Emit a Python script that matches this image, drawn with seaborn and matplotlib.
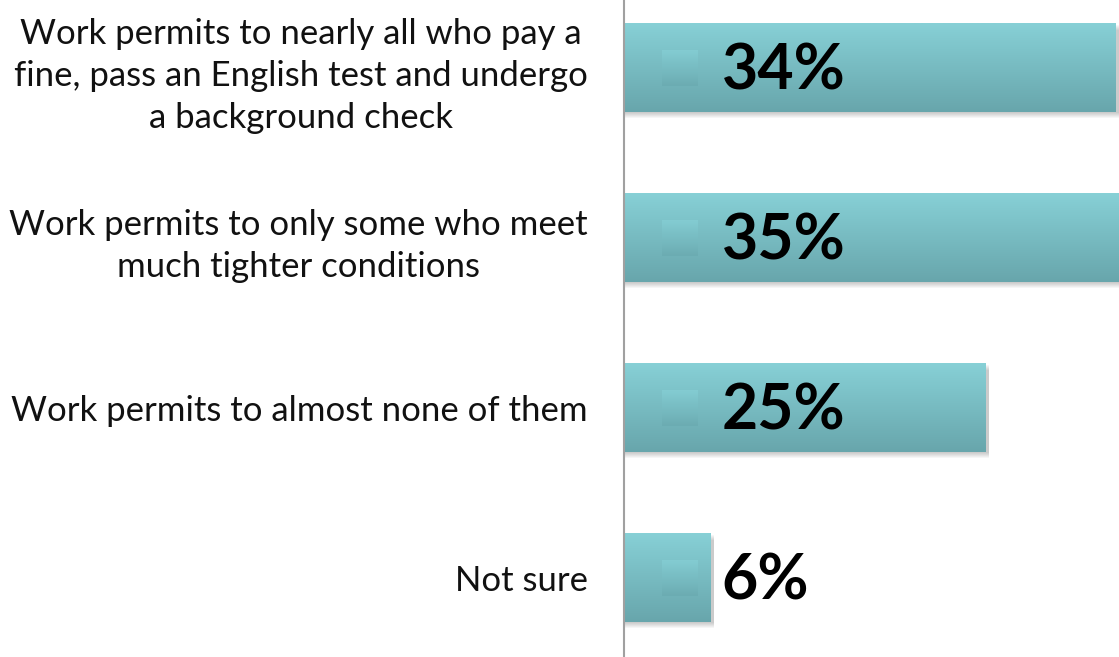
import numpy as np
import matplotlib
matplotlib.use("Agg")
import matplotlib.pyplot as plt
import seaborn as sns
from matplotlib.patches import Rectangle

# --- datos ---
categorias = [
    "Work permits to nearly all who pay a\nfine, pass an English test and undergo\na background check",
    "Work permits to only some who meet\nmuch tighter conditions",
    "Work permits to almost none of them",
    "Not sure",
]
valores = [34, 35, 25, 6]
etiquetas = ["34%", "35%", "25%", "6%"]

color_arriba = np.array([0x87, 0xD0, 0xD6]) / 255
color_abajo = np.array([0x68, 0xA6, 0xAC]) / 255

sns.set_style("white")
plt.rcParams['font.family'] = ['Lato', 'DejaVu Sans']

fig = plt.figure(figsize=(11.19, 6.57), dpi=100)
ax = fig.add_axes([624 / 1119, 0, 1 - 624 / 1119, 1])

ax = sns.barplot(x=valores, y=categorias, orient='h', width=0.52, color=color_arriba, ax=ax)

# degradado vertical para las barras
grad = np.linspace(0, 1, 64)[:, None, None]
img = color_arriba * (1 - grad) + color_abajo * grad

px_y = 1 / 170  # un pixel en unidades de datos (eje y)
px_x = 1 / 14.47

for bar, txt in zip(ax.patches, etiquetas):
    x0, y0 = bar.get_x(), bar.get_y()
    w, h = bar.get_width(), bar.get_height()
    bar.set_alpha(0)
    # sombra
    for k in range(1, 7):
        ax.add_patch(Rectangle((x0 + px_x * 1, y0 + px_y * k), w + px_x * 2, h,
                               color='black', alpha=0.035, lw=0, zorder=1))
    ax.imshow(img, extent=(x0, x0 + w, y0 + h, y0), origin='upper',
              aspect='auto', zorder=2)
    # marcador de leyenda dentro de la barra
    yc = y0 + h / 2
    mk = 36 * px_y / 2
    ax.imshow(color_arriba * (1 - grad * 0.8) + color_abajo * grad * 0.8 - 0.01,
              extent=(2.6, 2.6 + 36 * px_x, yc + mk, yc - mk), origin='upper',
              aspect='auto', zorder=3, alpha=0.9)
    ax.text(6.75, yc + 0.02, txt, fontsize=45, fontweight='bold', va='center',
            ha='left', color='black', zorder=4)

ax.set_xlim(0, (1119 - 624) * px_x)
ax.set_ylim(3 + 79 * px_y, -68 * px_y)
ax.set_xticks([])
ax.tick_params(axis='y', length=0, pad=26, labelsize=25, labelcolor='#111111')
plt.setp(ax.get_yticklabels(), multialignment='center', linespacing=1.38)
ax.set_ylabel('')
for s in ['top', 'right', 'bottom']:
    ax.spines[s].set_visible(False)
ax.spines['left'].set_color('#A0A0A0')
ax.spines['left'].set_linewidth(1.5)

fig.savefig('out.png', dpi=100)
